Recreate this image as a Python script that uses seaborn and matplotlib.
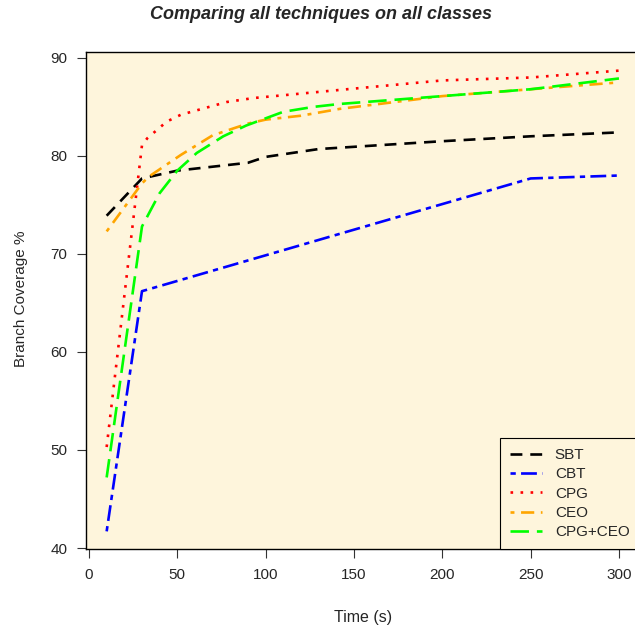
import numpy as np
import pandas as pd
import matplotlib
matplotlib.use('Agg')
import matplotlib.pyplot as plt
import seaborn as sns

# data
sbt_t = [10, 30, 50, 90, 100, 130, 200, 250, 300]
sbt_y = [73.9, 77.7, 78.5, 79.3, 79.9, 80.7, 81.5, 82.0, 82.4]

cbt_t = [10, 30, 250, 300]
cbt_y = [41.7, 66.2, 77.7, 78.0]

cpg_t = [10, 30, 33, 44, 52, 78, 93, 146, 200, 250, 300]
cpg_y = [50.3, 81.1, 81.8, 83.5, 84.2, 85.5, 85.9, 86.8, 87.7, 88.0, 88.7]

ceo_t = [10, 30, 34, 52, 70, 90, 100, 120, 142, 200, 250, 300]
ceo_y = [72.3, 77.2, 77.9, 80.1, 82.1, 83.3, 83.7, 84.1, 84.8, 86.1, 86.8, 87.5]

both_t = [10, 30, 40, 50, 61, 76, 89, 110, 127, 142, 200, 250, 300]
both_y = [47.2, 72.8, 76.2, 78.5, 80.3, 82.0, 83.1, 84.5, 85.0, 85.3, 86.1, 86.8, 87.9]

series = [
    ('SBT', sbt_t, sbt_y, 'black', (4.5, 3)),
    ('CBT', cbt_t, cbt_y, '#0000FF', (2, 2, 6, 2)),
    ('CPG', cpg_t, cpg_y, '#FF0000', (1, 2.8)),
    ('CEO', ceo_t, ceo_y, '#FFA500', (1.5, 2.5, 5, 2.5)),
    ('CPG+CEO', both_t, both_y, '#00FF00', (7, 3)),
]

sns.set_style('ticks')
plt.rcParams['font.family'] = ['Liberation Sans', 'DejaVu Sans']

fig = plt.figure(figsize=(6.35, 6.28), dpi=100)
ax = fig.add_axes([0.1357, 0.1258, 0.8713, 0.7914])
ax.set_facecolor('#FEF5DC')

for name, t, y, col, dash in series:
    df = pd.DataFrame({'t': t, 'y': y})
    sns.lineplot(data=df, x='t', y='y', ax=ax, color=col, label=name,
                 linewidth=1.9, linestyle=(0, dash), sort=False)

ax.set_xlim(-1.6, 311.6)
ax.set_ylim(39.9, 90.6)
ax.set_xticks([0, 50, 100, 150, 200, 250, 300])
ax.set_yticks([40, 50, 60, 70, 80, 90])
ax.tick_params(direction='out', length=6.5, width=0.8, labelsize=11, pad=7, color='#333333')
for s in ax.spines.values():
    s.set_linewidth(1.0)
    s.set_color('black')
ax.set_xlabel('')
ax.set_ylabel('')

fig.text(0.571, 0.0096, 'Time (s)', ha='center', va='baseline', fontsize=11.5)
fig.text(0.033, 0.525, 'Branch Coverage %', ha='center', va='center', rotation=90, fontsize=11)
fig.text(0.505, 0.977, 'Comparing all techniques on all classes', ha='center', va='center',
         fontsize=13, fontweight='bold', fontstyle='italic')

leg = ax.legend(loc='lower right', fontsize=11, frameon=True, fancybox=False,
                handlelength=2.1, handletextpad=0.85, borderpad=0.65,
                labelspacing=0.34, borderaxespad=0)
leg.get_frame().set_edgecolor('black')
leg.get_frame().set_facecolor('#FEF5DC')
leg.get_frame().set_linewidth(0.8)
leg.get_frame().set_alpha(1)

fig.savefig('out.png', dpi=100)
